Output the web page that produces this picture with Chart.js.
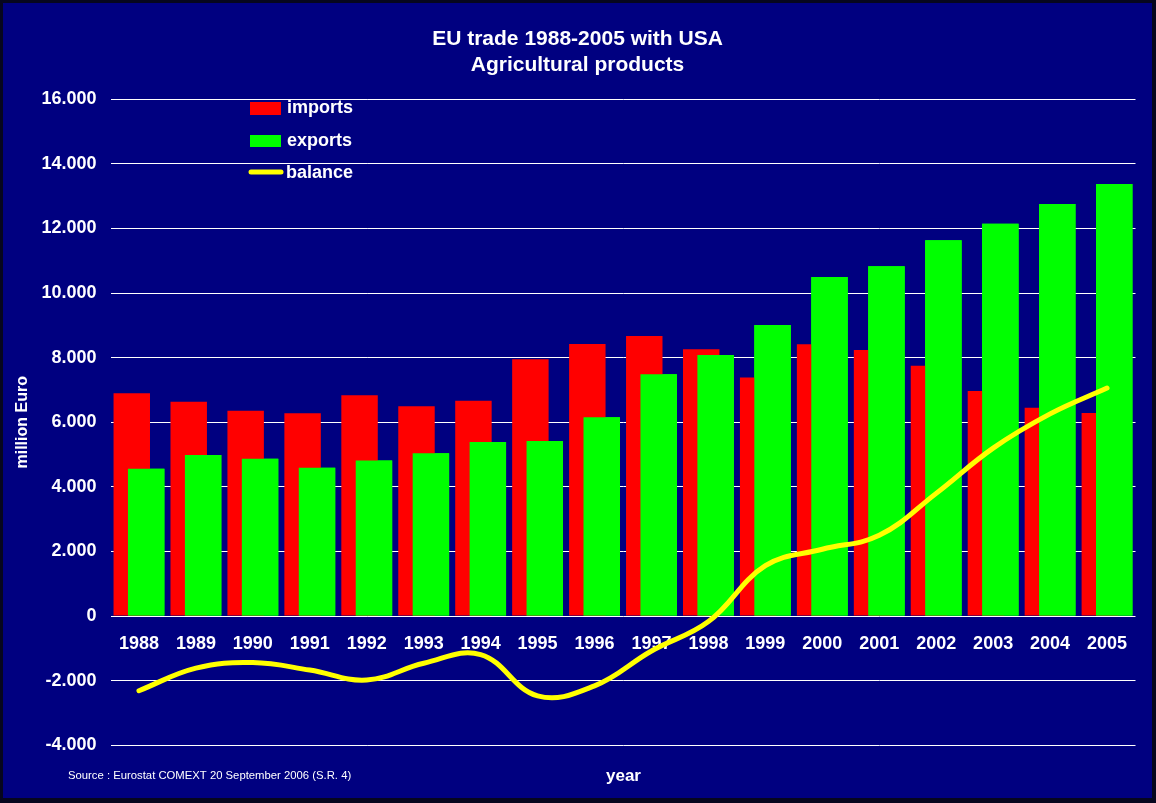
<!DOCTYPE html>
<html>
<head>
<meta charset="utf-8">
<title>EU trade 1988-2005 with USA</title>
<script src="https://cdn.jsdelivr.net/npm/chart.js@4.4.1/dist/chart.umd.min.js"></script>
<style>
    html, body {
        margin: 0;
        padding: 0;
        background: #06061e;
    }

    .chart-frame {
        position: absolute;
        left: 3px;
        top: 3px;
        width: 1149px;
        height: 795px;
        background: #000080;
    }
</style>
</head>
<body>
<div class="chart-frame">
    <canvas id="tradeChart"></canvas>
</div>
<script>

const titleLines = ["EU trade 1988-2005 with USA", "Agricultural products"];

const years = ["1988", "1989", "1990", "1991", "1992", "1993", "1994", "1995", "1996",
    "1997", "1998", "1999", "2000", "2001", "2002", "2003", "2004", "2005"];

// million Euro
const importValues = [6900, 6640, 6360, 6280, 6840, 6500, 6665, 7950, 8425,
    8675, 8265, 7390, 8420, 8235, 7750, 6970, 6450, 6285];

const exportValues = [4560, 4985, 4870, 4590, 4820, 5045, 5390, 5420, 6160,
    7490, 8080, 9010, 10495, 10835, 11640, 12150, 12755, 13375];

const balanceValues = [-2310, -1610, -1440, -1670, -1980, -1460, -1190, -2470, -2160,
    -1080, -170, 1560, 2070, 2500, 3800, 5200, 6260, 7060];

const yTicks = [-4000, -2000, 0, 2000, 4000, 6000, 8000, 10000, 12000, 14000, 16000];

const sourceNote = "Source : Eurostat COMEXT 20 September 2006 (S.R. 4)";
const xTitle = "year";
const yTitle = "million Euro";

const WHITE = "#ffffff";
const FONT = "'Liberation Sans', Arial, Helvetica, sans-serif";

Chart.defaults.font.family = FONT;
Chart.defaults.color = WHITE;


function formatThousands(value) {
    return String(value).replace(/\B(?=(\d{3})+(?!\d))/g, ".");
}


/*
    imports sit left of exports in each year, but exports
    are painted over them where the two bars overlap
*/
const exportsOnTop = {
    id: "exportsOnTop",
    afterDatasetDraw(chart, args) {
        if (args.index !== 0) {
            return;
        }
        chart.getDatasetMeta(1).controller.draw();
    }
};


/*
    legend box inside the plot, axis caption and source line
*/
const chartDecor = {
    id: "chartDecor",
    afterDraw(chart) {
        const ctx = chart.ctx;
        const sets = chart.data.datasets;

        ctx.save();

        ctx.fillStyle = sets[0].backgroundColor;
        ctx.fillRect(247, 99, 31, 13);

        ctx.fillStyle = sets[1].backgroundColor;
        ctx.fillRect(247, 132, 31, 12);

        ctx.strokeStyle = sets[2].borderColor;
        ctx.lineWidth = 5;
        ctx.lineCap = "round";
        ctx.beginPath();
        ctx.moveTo(248, 169);
        ctx.lineTo(278, 169);
        ctx.stroke();

        ctx.fillStyle = WHITE;
        ctx.textAlign = "left";
        ctx.textBaseline = "middle";
        ctx.font = "bold 18px " + FONT;
        ctx.fillText(sets[0].label, 284, 105.5);
        ctx.fillText(sets[1].label, 284, 138.5);
        ctx.fillText(sets[2].label, 283, 170.5);

        ctx.textAlign = "center";
        ctx.font = "bold 17px " + FONT;
        ctx.fillText(xTitle, 620.5, 773);

        ctx.textAlign = "left";
        ctx.font = "11.3px " + FONT;
        ctx.fillText(sourceNote, 65, 772.5);

        ctx.restore();
    }
};


const barShape = {
    categoryPercentage: 0.506,
    barPercentage: 2.53,
    borderWidth: 0
};

new Chart(document.getElementById("tradeChart"), {

    type: "bar",

    data: {
        labels: years,
        datasets: [
            {
                label: "imports",
                data: importValues,
                backgroundColor: "#ff0000",
                order: 2,
                ...barShape
            },
            {
                label: "exports",
                data: exportValues,
                backgroundColor: "#00ff00",
                order: 3,
                ...barShape
            },
            {
                type: "line",
                label: "balance",
                data: balanceValues,
                borderColor: "#ffff00",
                backgroundColor: "#ffff00",
                borderWidth: 5,
                borderCapStyle: "round",
                tension: 0.4,
                pointRadius: 0,
                fill: false,
                order: 1
            }
        ]
    },

    options: {
        responsive: true,
        maintainAspectRatio: false,
        animation: false,

        // same side padding keeps the title centred on the slide
        layout: {
            padding: { left: 16.5, right: 16.5, top: 0, bottom: 52.7 }
        },

        plugins: {
            legend: { display: false },
            tooltip: { enabled: false },
            title: {
                display: true,
                text: titleLines,
                color: WHITE,
                font: { size: 21, weight: "bold", lineHeight: 1.2 },
                padding: { top: 24, bottom: 21.9 }
            }
        },

        scales: {
            x: {
                type: "category",
                position: { y: 0 },
                offset: true,
                grid: { display: false, drawTicks: false },
                border: { display: false },
                ticks: {
                    color: WHITE,
                    font: { size: 18, weight: "bold" },
                    padding: 17,
                    maxRotation: 0,
                    autoSkip: false
                }
            },
            y: {
                min: yTicks[0],
                max: yTicks[yTicks.length - 1],
                afterBuildTicks: scale => {
                    scale.ticks = yTicks.map(value => ({ value }));
                },
                afterFit: scale => {
                    scale.width = 91;
                },
                grid: { color: WHITE, lineWidth: 1, drawTicks: false },
                border: { display: false },
                ticks: {
                    color: WHITE,
                    font: { size: 18, weight: "bold" },
                    padding: 14,
                    callback: value => formatThousands(value)
                },
                title: {
                    display: true,
                    text: yTitle,
                    color: WHITE,
                    font: { size: 16, weight: "bold" },
                    padding: { top: -6.1, bottom: 0 }
                }
            }
        }
    },

    plugins: [exportsOnTop, chartDecor]

});

</script>
</body>
</html>
